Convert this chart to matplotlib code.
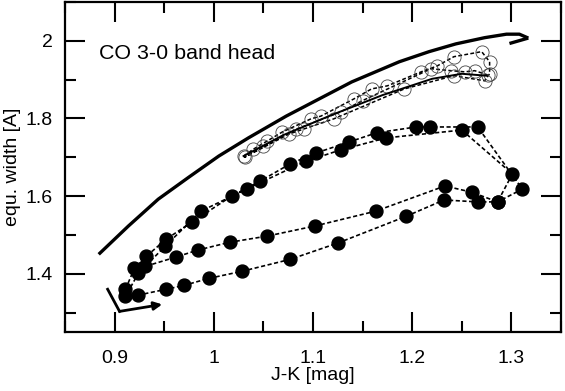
import matplotlib
matplotlib.use("Agg")
import matplotlib.pyplot as plt
from matplotlib.ticker import MultipleLocator

plt.rcParams['font.family'] = ['Liberation Sans', 'DejaVu Sans']

# thick solid reference curve (ends in a small hook)
curve_jk = [0.884, 0.914, 0.944, 0.975, 1.005, 1.035, 1.073, 1.106, 1.139, 1.187,
            1.217, 1.244, 1.273, 1.295, 1.308, 1.317]
curve_ew = [1.450, 1.523, 1.592, 1.649, 1.703, 1.750, 1.806, 1.850, 1.894, 1.946,
            1.972, 1.992, 2.008, 2.017, 2.017, 2.007]
hook_jk = [1.317, 1.298]
hook_ew = [2.007, 1.993]

# small arrow at the lower left
arrow_jk = [0.893, 0.905, 0.948]
arrow_ew = [1.360, 1.303, 1.321]

# filled circles, time sequence
filled_jk = [0.911, 0.920, 0.932, 0.952, 0.978, 1.018, 1.047, 1.077, 1.103, 1.136,
             1.164, 1.204, 1.218, 1.266, 1.311, 1.286, 1.266, 1.232, 1.194, 1.125,
             1.077, 1.028, 0.995, 0.970, 0.952, 0.924, 0.911, 0.924, 0.951, 0.987,
             1.033, 1.093, 1.128, 1.174, 1.250, 1.301, 1.286, 1.260, 1.233, 1.163,
             1.102, 1.054, 1.016, 0.984, 0.962, 0.931]
filled_ew = [1.360, 1.414, 1.445, 1.489, 1.533, 1.600, 1.639, 1.683, 1.711, 1.739,
             1.763, 1.778, 1.778, 1.778, 1.618, 1.585, 1.585, 1.590, 1.548, 1.479,
             1.437, 1.406, 1.388, 1.370, 1.360, 1.345, 1.342, 1.401, 1.471, 1.561,
             1.618, 1.690, 1.719, 1.750, 1.770, 1.657, 1.585, 1.610, 1.626, 1.561,
             1.523, 1.497, 1.481, 1.461, 1.443, 1.419]

# open circles, time sequence
open_jk = [1.030, 1.040, 1.054, 1.069, 1.098, 1.108, 1.141, 1.159, 1.175, 1.209,
           1.225, 1.242, 1.270, 1.278, 1.278, 1.273, 1.242, 1.192, 1.121, 1.091,
           1.076, 1.031, 1.050, 1.083, 1.128, 1.150, 1.219, 1.239, 1.253, 1.263, 1.276]
open_ew = [1.703, 1.721, 1.742, 1.765, 1.799, 1.806, 1.850, 1.876, 1.884, 1.920,
           1.935, 1.959, 1.972, 1.946, 1.915, 1.897, 1.910, 1.876, 1.799, 1.773,
           1.760, 1.700, 1.728, 1.772, 1.817, 1.846, 1.928, 1.923, 1.920, 1.923, 1.912]

# thin solid line through the open circle band
band_jk = [1.030, 1.070, 1.120, 1.170, 1.220, 1.250, 1.275]
band_ew = [1.703, 1.757, 1.810, 1.860, 1.902, 1.915, 1.910]

fig = plt.figure(figsize=(5.65, 3.91), dpi=100)
ax = fig.add_axes([0.115, 0.151, 0.878, 0.844])

ax.plot(curve_jk, curve_ew, color='black', lw=2.4, solid_capstyle='butt',
        solid_joinstyle='round')
ax.plot(hook_jk, hook_ew, color='black', lw=2.4, solid_capstyle='butt')

ax.plot(arrow_jk[:2], arrow_ew[:2], color='black', lw=2.0)
ax.annotate('', xy=(arrow_jk[2], arrow_ew[2]), xytext=(arrow_jk[1], arrow_ew[1]),
            arrowprops=dict(arrowstyle='-|>', color='black', lw=2.0,
                            mutation_scale=12, shrinkA=0, shrinkB=0))

ax.plot(open_jk, open_ew, color='black', lw=1.1, ls=(0, (2.5, 1.5)),
        marker='o', ms=9.5, mfc='none', mec='#444444', mew=0.6)
ax.plot(band_jk, band_ew, color='black', lw=1.4)

ax.plot(filled_jk, filled_ew, color='black', lw=1.2, ls=(0, (2.5, 1.5)),
        marker='o', ms=9.3, mfc='black', mec='black')

ax.text(0.069, 0.845, 'CO 3-0 band head', transform=ax.transAxes,
        fontsize=15.4, va='center', ha='left')

ax.set_xlim(0.85, 1.35)
ax.set_ylim(1.25, 2.1)
ax.xaxis.set_minor_locator(MultipleLocator(0.05))
ax.yaxis.set_minor_locator(MultipleLocator(0.1))
ax.set_xticks([0.9, 1.0, 1.1, 1.2, 1.3])
ax.set_xticklabels(['0.9', '1', '1.1', '1.2', '1.3'])
ax.set_yticks([1.4, 1.6, 1.8, 2.0])
ax.set_yticklabels(['1.4', '1.6', '1.8', '2'])

ax.tick_params(which='both', direction='in', top=True, right=True, width=1.5)
ax.tick_params(which='major', length=14.5)
ax.tick_params(which='minor', length=8)
ax.tick_params(axis='x', which='both', pad=13, labelsize=14)
ax.tick_params(axis='y', which='both', pad=9, labelsize=14)
for s in ax.spines.values():
    s.set_linewidth(1.6)

ax.set_xlabel('J-K [mag]', fontsize=14, labelpad=0)
ax.set_ylabel('equ. width [A]', fontsize=14, labelpad=3)

fig.savefig('out.png', dpi=100)
